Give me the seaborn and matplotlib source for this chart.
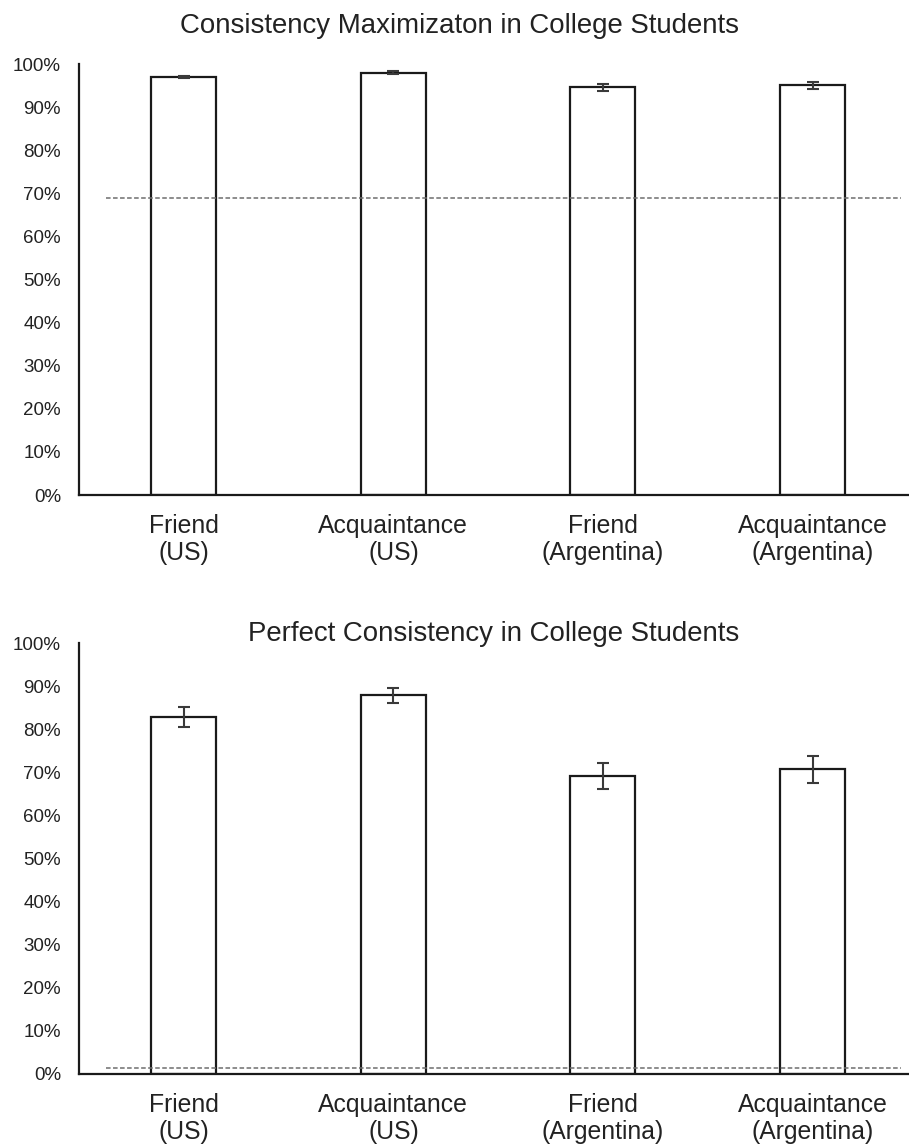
import matplotlib
matplotlib.use("Agg")
import matplotlib.pyplot as plt
import seaborn as sns
import pandas as pd
from matplotlib.ticker import PercentFormatter

# Conditions shown on both panels
conditions = ["Friend\n(US)", "Acquaintance\n(US)", "Friend\n(Argentina)", "Acquaintance\n(Argentina)"]

# Consistency maximization (proportion of choices) and standard errors
maximization = [0.970, 0.980, 0.946, 0.951]
maximization_err = [0.003, 0.003, 0.0085, 0.008]
maximization_chance = 0.69

# Perfect consistency (proportion of participants) and standard errors
perfect = [0.829, 0.879, 0.692, 0.707]
perfect_err = [0.023, 0.017, 0.030, 0.031]
perfect_chance = 0.015

titles = ["Consistency Maximizaton in College Students",
          "Perfect Consistency in College Students"]

sns.set_theme(style="white")
plt.rcParams["font.family"] = ["Liberation Sans", "DejaVu Sans"]

fig = plt.figure(figsize=(9.09, 11.44), dpi=100)
ax_top = fig.add_axes([0.0869, 0.5673, 0.9131, 0.3767])
ax_bot = fig.add_axes([0.0869, 0.0612, 0.9131, 0.3767])

panels = [
    (ax_top, maximization, maximization_err, maximization_chance, titles[0], 460, 33),
    (ax_bot, perfect, perfect_err, perfect_chance, titles[1], 494, 641),
]

ink = "#1a1a1a"
for ax, vals, errs, chance, title, tx, ty in panels:
    df = pd.DataFrame({"condition": conditions, "value": vals})
    sns.barplot(data=df, x="condition", y="value", color="white",
                edgecolor=ink, linewidth=1.6, width=0.31, ax=ax,
                errorbar=None, saturation=1)
    ax.errorbar(range(len(vals)), vals, yerr=errs, fmt="none",
                ecolor="#3a3a3a", elinewidth=1.5, capsize=4.2, capthick=1.5,
                zorder=5)
    ax.axhline(chance, xmin=0.033, xmax=0.99, color="#6e6e6e",
               linestyle=(0, (3, 1.6)), linewidth=1.1, zorder=1)

    ax.set_ylim(0, 1.0)
    ax.set_xlim(-0.5, 3.46)
    ax.set_yticks([i / 10 for i in range(11)])
    ax.yaxis.set_major_formatter(PercentFormatter(1.0, decimals=0))
    ax.set_xlabel("")
    ax.set_ylabel("")
    ax.tick_params(axis="y", length=0, pad=13, labelsize=13.5, labelcolor="#222222")
    ax.tick_params(axis="x", length=0, pad=13.5, labelsize=17.8, labelcolor="#222222")
    for lab in ax.get_xticklabels():
        lab.set_linespacing(1.15)

    sns.despine(ax=ax, top=True, right=True)
    for side in ("left", "bottom"):
        ax.spines[side].set_color(ink)
        ax.spines[side].set_linewidth(1.6)
    ax.grid(False)

    fig.text(tx / 909, 1 - ty / 1144, title, ha="center", va="baseline",
             fontsize=19.9, color="#222222")

fig.savefig("out.png", dpi=100, facecolor="white")
